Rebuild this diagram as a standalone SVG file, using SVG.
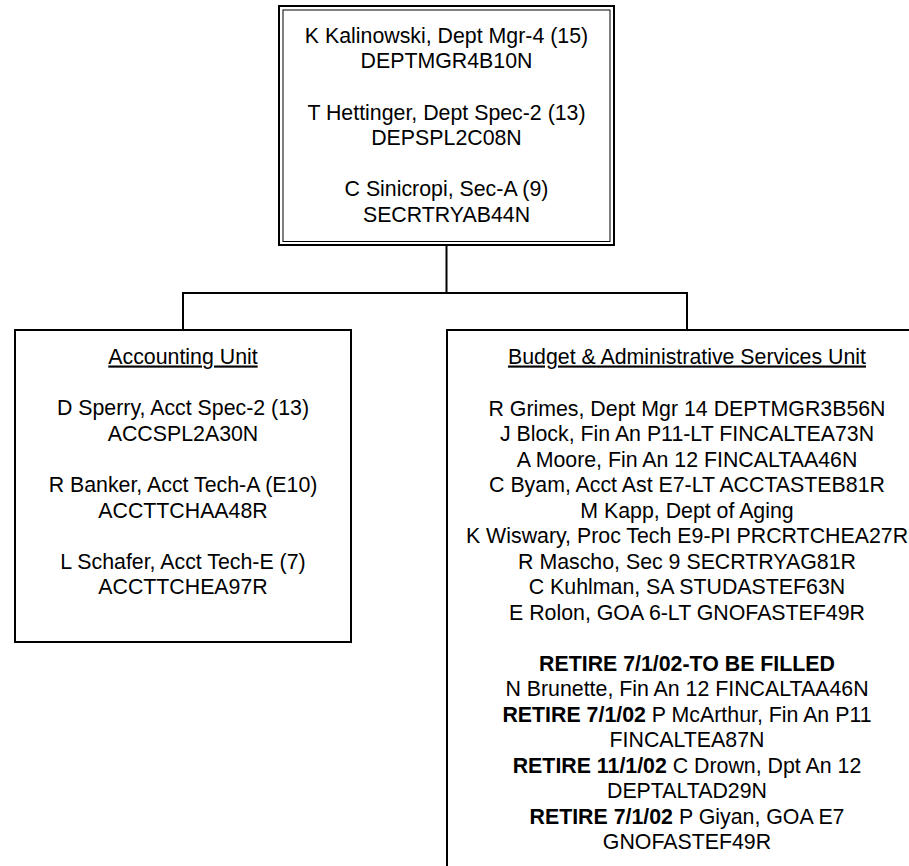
<svg xmlns="http://www.w3.org/2000/svg" width="909" height="866" viewBox="0 0 909 866">
<style>
text{font-family:"Liberation Sans",Arial,sans-serif;font-size:21.33px;fill:#000;text-anchor:middle}
.b{font-weight:bold}
.u{text-decoration:underline}
.box{fill:#fff;stroke:#000;stroke-width:2}
.thin{fill:none;stroke:#000;stroke-width:1}
.conn{fill:none;stroke:#000;stroke-width:2}
</style>
<rect x="0" y="0" width="909" height="866" fill="#fff"/>
<g id="connectors">
<path class="conn" d="M446.5 246V293M183 293H687M183 292V330M687 292V330"/>
</g>
<g id="top">
<rect class="box" x="279" y="6" width="335" height="239"/>
<rect class="thin" x="283" y="10" width="327" height="231.5"/>
<text x="446.5" y="42.7">K Kalinowski, Dept Mgr-4 (15)</text>
<text x="446.5" y="68.3">DEPTMGR4B10N</text>
<text x="446.5" y="119.5">T Hettinger, Dept Spec-2 (13)</text>
<text x="446.5" y="145.1">DEPSPL2C08N</text>
<text x="446.5" y="196.3">C Sinicropi, Sec-A (9)</text>
<text x="446.5" y="221.9">SECRTRYAB44N</text>
</g>
<g id="accounting">
<rect class="box" x="15" y="330" width="336" height="312"/>
<text class="u" x="183" y="363.5">Accounting Unit</text>
<text x="183" y="415.2">D Sperry, Acct Spec-2 (13)</text>
<text x="183" y="440.8">ACCSPL2A30N</text>
<text x="183" y="492">R Banker, Acct Tech-A (E10)</text>
<text x="183" y="517.6">ACCTTCHAA48R</text>
<text x="183" y="568.8">L Schafer, Acct Tech-E (7)</text>
<text x="183" y="594.4">ACCTTCHEA97R</text>
</g>
<g id="budget">
<rect class="box" x="447" y="330" width="480" height="560"/>
<text class="u" x="687" y="363.5">Budget &amp; Administrative Services Unit</text>
<text x="687" y="415.5">R Grimes, Dept Mgr 14 DEPTMGR3B56N</text>
<text x="687" y="441">J Block, Fin An P11-LT FINCALTEA73N</text>
<text x="687" y="466.5">A Moore, Fin An 12 FINCALTAA46N</text>
<text x="687" y="492">C Byam, Acct Ast E7-LT ACCTASTEB81R</text>
<text x="687" y="517.5">M Kapp, Dept of Aging</text>
<text x="687" y="543">K Wiswary, Proc Tech E9-PI PRCRTCHEA27R</text>
<text x="687" y="568.5">R Mascho, Sec 9 SECRTRYAG81R</text>
<text x="687" y="594">C Kuhlman, SA STUDASTEF63N</text>
<text x="687" y="619.5">E Rolon, GOA 6-LT GNOFASTEF49R</text>
<text class="b" x="687" y="670.5">RETIRE 7/1/02-TO BE FILLED</text>
<text x="687" y="696">N Brunette, Fin An 12 FINCALTAA46N</text>
<text x="687" y="721.5"><tspan class="b">RETIRE 7/1/02</tspan> P McArthur, Fin An P11</text>
<text x="687" y="747">FINCALTEA87N</text>
<text x="687" y="772.5"><tspan class="b">RETIRE 11/1/02</tspan> C Drown, Dpt An 12</text>
<text x="687" y="798">DEPTALTAD29N</text>
<text x="687" y="823.5"><tspan class="b">RETIRE 7/1/02</tspan> P Giyan, GOA E7</text>
<text x="687" y="849">GNOFASTEF49R</text>
</g>
</svg>
